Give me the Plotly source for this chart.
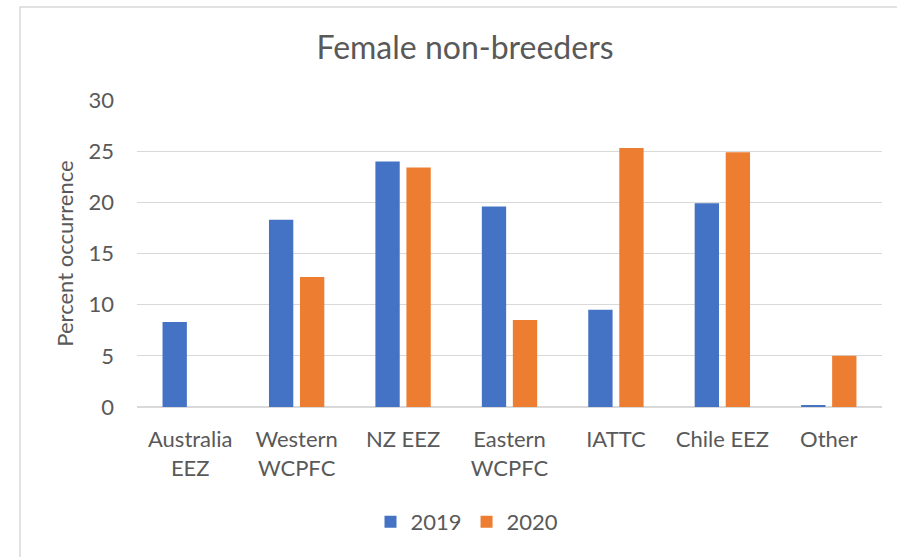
import plotly.graph_objects as go

categories = ["Australia<br>EEZ", "Western<br>WCPFC", "NZ EEZ", "Eastern<br>WCPFC", "IATTC", "Chile EEZ", "Other"]
values_2019 = [8.3, 18.3, 24.0, 19.6, 9.5, 19.9, 0.15]
values_2020 = [0, 12.7, 23.4, 8.5, 25.3, 24.9, 5.0]
series_names = ["2019", "2020"]
y_ticks = [0, 5, 10, 15, 20, 25, 30]

FONT = "Lato, Carlito, Calibri, sans-serif"
TXT = "#595959"

fig = go.Figure()
fig.add_trace(go.Bar(x=categories, y=values_2019, name=series_names[0],
                     marker=dict(color="#4472C4", line=dict(width=0))))
fig.add_trace(go.Bar(x=categories, y=values_2020, name=series_names[1],
                     marker=dict(color="#ED7D31", line=dict(width=0))))

W, H = 897, 557
L, R, T, B = 137, 15, 100, 150
pw = W - L - R
ph = H - T - B

def px_x(x):
    return (x - L) / pw

def px_y(y):
    return (H - B - y) / ph

fig.update_layout(
    width=W, height=H,
    margin=dict(l=L, r=R, t=T, b=B, autoexpand=False),
    paper_bgcolor="white", plot_bgcolor="white",
    barmode="group", bargap=0.417, bargroupgap=0.216,
    font=dict(family=FONT, color=TXT, size=22),
    title=dict(text="Female non-breeders", x=465 / W, xref="container", xanchor="center",
               y=1 - 48 / H, yref="container", yanchor="middle",
               font=dict(size=32, color=TXT, family=FONT)),
    showlegend=True,
    legend=dict(orientation="h", x=px_x(467), xanchor="center", y=px_y(522), yanchor="middle",
                font=dict(size=22, color=TXT, family=FONT), itemwidth=30,
                tracegroupgap=0),
    xaxis=dict(showgrid=False, showline=False, ticks="", automargin=False,
               ticklabelstandoff=17, tickfont=dict(size=22, color=TXT)),
    yaxis=dict(range=[0, 30], tickvals=y_ticks, showgrid=True, gridcolor="#D9D9D9", gridwidth=1,
               zeroline=True, zerolinecolor="#D9D9D9", zerolinewidth=1.5, automargin=False,
               ticks="", ticklen=0, ticklabelstandoff=22, tickfont=dict(size=22, color=TXT),
               title=dict(text="Percent occurrence", font=dict(size=22, color=TXT), standoff=8)),
    shapes=[dict(type="rect", xref="paper", yref="paper",
                 x0=px_x(20), x1=px_x(920), y0=px_y(580), y1=px_y(7),
                 line=dict(color="#D9D9D9", width=1.5), fillcolor="rgba(0,0,0,0)", layer="below")],
)

fig.write_html("out.html", config={"displayModeBar": False},
               post_script="document.body.style.margin='0';")
